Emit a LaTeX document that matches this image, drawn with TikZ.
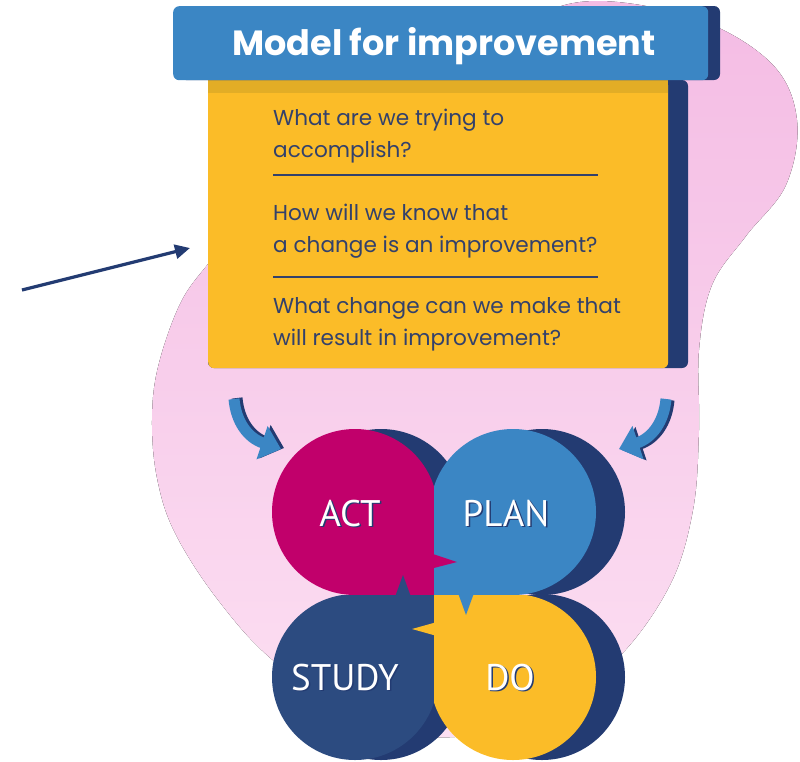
\documentclass[tikz,border=0pt]{standalone}
\usepackage{fontspec}
\newfontfamily\bodyfont{Poppins}
\newfontfamily\titlefont{Poppins}
\newfontfamily\labelfont{PT Sans}
\usetikzlibrary{arrows.meta}
\definecolor{pinkA}{HTML}{F4BCE4}
\definecolor{pinkB}{HTML}{FCDFF2}
\definecolor{titleblue}{HTML}{3B86C4}
\definecolor{navy}{HTML}{233B72}
\definecolor{yellowc}{HTML}{FBBC28}
\definecolor{stripc}{HTML}{E2AD26}
\definecolor{textc}{HTML}{33416B}
\definecolor{magentac}{HTML}{C1006B}
\definecolor{studyc}{HTML}{2C4B80}
\tikzset{
  qtext/.style={anchor=base west, inner sep=0, font=\bodyfont\fontsize{21.6}{25}\selectfont, text=textc},
  seprule/.style={draw=textc, line width=1.3},
  pdsa/.style={anchor=base, inner sep=0, font=\labelfont\fontsize{37}{40}\selectfont, text=white},
  pdsashadow/.style={anchor=base, inner sep=0, font=\labelfont\fontsize{37}{40}\selectfont, text=navy},
  curvearrow/.style={line width=11, draw=titleblue, -{Triangle[length=20,width=34]}},
  curveshadow/.style={line width=11, draw=navy, -{Triangle[length=20,width=34]}},
}
\begin{document}
\begin{tikzpicture}[x=1pt,y=-1pt]
\useasboundingbox (0,0) rectangle (800,761);
% pink blob
\fill[top color=pinkA, bottom color=pinkB] plot[smooth cycle, tension=0.6] coordinates {
 (600,1) (700,20) (772,64) (797,120) (786,185) (746,236) (712,285) (699,350)
 (699,430) (693,510) (670,585) (618,658) (545,712) (455,737) (365,722) (275,662)
 (218,600) (175,533) (157,478) (152,420) (158,367) (180,304) (208,264) (250,215)
 (330,140) (440,70) (530,18)};
% left arrow
\coordinate (arrowstart) at (22,290);
\coordinate (arrowend) at (190,248);
\draw[navy, line width=3.2, -{Triangle[length=15,width=14]}] (arrowstart) -- (arrowend);
% question box
\fill[navy, rounded corners=6] (208,80) rectangle (688,368);
\node[fill=yellowc, rounded corners=6, minimum width=460, minimum height=288, anchor=north west, inner sep=0] (qbox) at (208,80) {};
\fill[stripc] (208,80) rectangle (668,93);
% title
\fill[navy, rounded corners=6] (180,6) rectangle (720,80);
\node[fill=titleblue, rounded corners=6, minimum width=535, minimum height=74, anchor=north west, inner sep=0] (titlebox) at (173,6) {};
\node[anchor=base, inner sep=0, font=\titlefont\bfseries\fontsize{35}{40}\selectfont, text=white] (title) at (444,55) {Model for improvement};
% questions
\node[qtext] (q1a) at (273,125) {What are we trying to};
\node[qtext] (q1b) at (273,157) {accomplish?};
\node[qtext] (q2a) at (273,220) {How will we know that};
\node[qtext] (q2b) at (273,252) {a change is an improvement?};
\node[qtext] (q3a) at (273,313) {What change can we make that};
\node[qtext] (q3b) at (273,345) {will result in improvement?};
\coordinate (s1a) at (273,175); \coordinate (s1b) at (598,175);
\coordinate (s2a) at (273,277); \coordinate (s2b) at (598,277);
\draw[seprule] (s1a) -- (s1b);
\draw[seprule] (s2a) -- (s2b);
% curved arrows
\coordinate (la0) at (234,399); \coordinate (la1) at (281,449);
\coordinate (ra0) at (666,399); \coordinate (ra1) at (619,449);
\draw[curveshadow] ([shift={(3,-1)}]la0) .. controls ([shift={(3,-1)}]236,422) and ([shift={(3,-1)}]248,438) .. ([shift={(3,-1)}]la1);
\draw[curvearrow] (la0) .. controls (236,422) and (248,438) .. (la1);
\draw[curveshadow] ([shift={(3,1)}]ra0) .. controls ([shift={(3,1)}]664,422) and ([shift={(3,1)}]652,438) .. ([shift={(3,1)}]ra1);
\draw[curvearrow] (ra0) .. controls (664,422) and (652,438) .. (ra1);
% PDSA shadows
\fill[navy] (381,512) circle (83);
\fill[navy] (542,512) circle (83);
\fill[navy] (381,677) circle (83);
\fill[navy] (542,677) circle (83);
% ACT
\begin{scope}
\clip (200,400) rectangle (434,595);
\fill[magentac] (355,512) circle (83);
\fill[magentac] (355,512) rectangle (434,595);
\end{scope}
% PLAN
\begin{scope}
\clip (434,400) rectangle (700,595);
\fill[titleblue] (513,512) circle (83);
\fill[titleblue] (513,512) rectangle (434,595);
\end{scope}
% STUDY
\begin{scope}
\clip (200,595) rectangle (434,761);
\fill[studyc] (355,677) circle (83);
\fill[studyc] (355,677) rectangle (434,595);
\end{scope}
% DO
\begin{scope}
\clip (434,595) rectangle (700,761);
\fill[yellowc] (513,677) circle (83);
\fill[yellowc] (513,677) rectangle (434,595);
\end{scope}
% pointers
\fill[magentac] (430,553) -- (457,562) -- (430,569) -- cycle;
\fill[studyc] (395,597) -- (403,575) -- (411,597) -- cycle;
\fill[titleblue] (458,593) -- (466,615) -- (474,593) -- cycle;
\fill[yellowc] (437,622) -- (412,629) -- (437,636) -- cycle;
% labels
\node[pdsashadow] (actS) at (351.5,527) {ACT};
\node[pdsa] (act) at (350,526) {ACT};
\node[pdsashadow] (planS) at (507.5,527) {PLAN};
\node[pdsa] (plan) at (506,526) {PLAN};
\node[pdsashadow] (studyS) at (346.5,691) {STUDY};
\node[pdsa] (study) at (345,690) {STUDY};
\node[pdsashadow] (doS) at (511.5,691) {DO};
\node[pdsa] (do) at (510,690) {DO};
\end{tikzpicture}
\end{document}
